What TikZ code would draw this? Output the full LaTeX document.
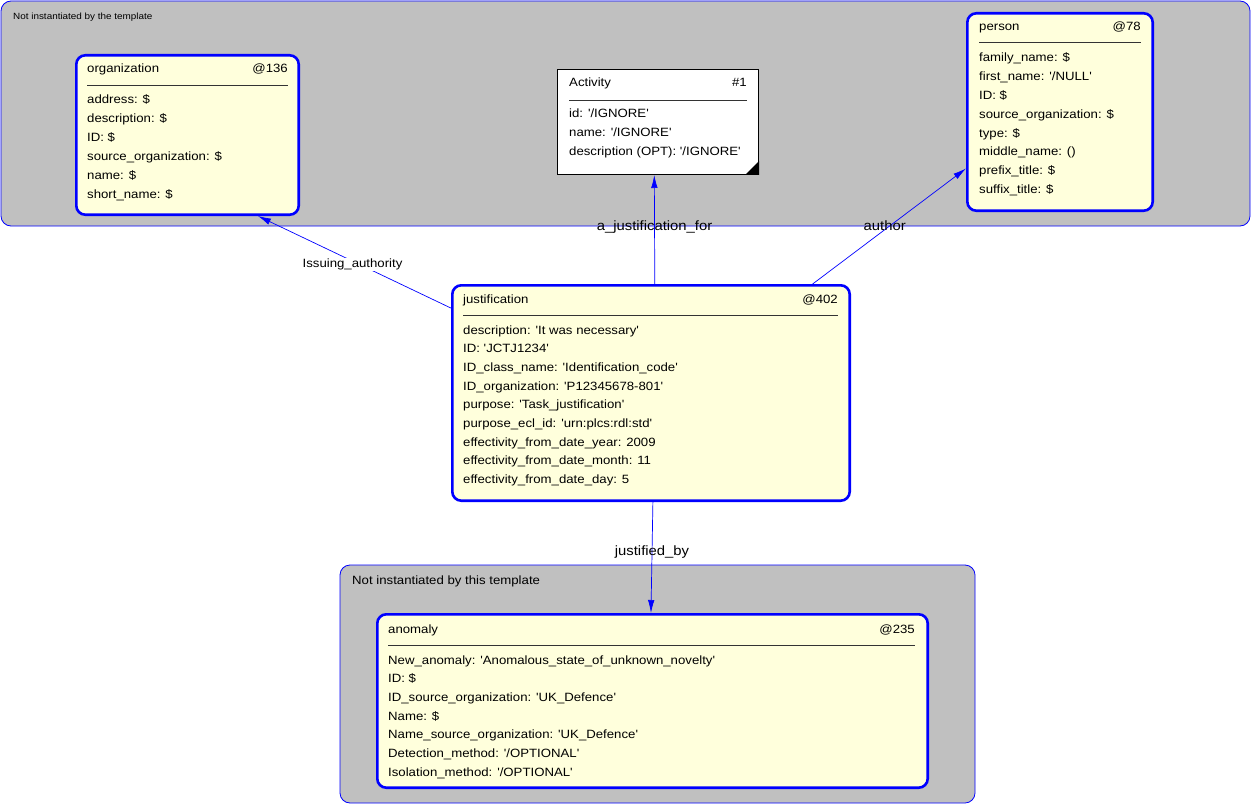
\documentclass[tikz,border=0pt]{standalone}
\usepackage{fontspec}
\setmainfont{Liberation Sans}[Ligatures=TeXOff,FakeStretch=1.1]
\usepackage{xcolor}
\usepackage{tikz}
\usetikzlibrary{arrows.meta}

\definecolor{grpgray}{HTML}{C0C0C0}
\definecolor{entfill}{HTML}{FFFFDC}

\begin{document}
\begin{tikzpicture}[x=1pt,y=-1pt,
	grp/.style={draw=blue,fill=grpgray,rounded corners=10pt,line width=0.8pt},
	ent/.style={draw=blue,fill=entfill,line width=2.6pt,rounded corners=9pt,anchor=north west,inner sep=0pt},
	tmpl/.style={draw=black,fill=white,line width=0.8pt,anchor=north west,inner sep=0pt},
	row/.style={anchor=base west,inner sep=0pt,font=\fontsize{12}{14}\selectfont},
	num/.style={anchor=base east,inner sep=0pt,font=\fontsize{12}{14}\selectfont},
	sep/.style={draw=black!80,line width=0.8pt},
	link/.style={draw=blue,line width=0.7pt,-{Latex[length=13pt,width=6.5pt]}},
	lbl/.style={inner sep=0pt,font=\fontsize{13.5}{15}\selectfont},
	lblw/.style={fill=white,inner sep=1pt,font=\fontsize{12}{14}\selectfont}]
	\useasboundingbox (0,0) rectangle (1252,805);
	%
	\draw[grp] (1,1) rectangle (1250,226);
	\draw[grp] (340,565) rectangle (975,803);
	\node[anchor=base west,inner sep=0pt,font=\fontsize{9}{10}\selectfont] (grp-top) at (13,20) {Not instantiated by the template};
	\node[row] (grp-bot) at (352,584) {Not instantiated by this template};
	%
	\node[ent,minimum width=222.4pt,minimum height=159.4pt] (org) at (75,54) {};
	\node[tmpl,minimum width=201.2pt,minimum height=105.2pt] (act) at (557,69) {};
	\node[ent,minimum width=185.4pt,minimum height=197.4pt] (per) at (966,12) {};
	\node[ent,minimum width=397.4pt,minimum height=215.4pt] (jst) at (451,284) {};
	\node[ent,minimum width=550.4pt,minimum height=173.4pt] (ano) at (376,613) {};
	\fill (act.south east) -- ++(-14,0) -- ++(14,-14) -- cycle;
	%
	\node[row] (org-t) at (87,73) {organization};
	\node[num] (org-n) at (288,73) {@136};
	\draw[sep] (87,85) -- (288,85);
	\foreach \t [count=\i from 0] in {{address: \$},{description: \$},{ID: \$},{source\_organization: \$},{name: \$},{short\_name: \$}}
		\node[row] (org-\i) at (87,104+\i*18.8) {\t};
	%
	\node[row] (act-t) at (569,87) {Activity};
	\node[num] (act-n) at (747,87) {\#1};
	\draw[sep] (569,100) -- (747,100);
	\foreach \t [count=\i from 0] in {{id: '/IGNORE'},{name: '/IGNORE'},{description (OPT): '/IGNORE'}}
		\node[row] (act-\i) at (569,118+\i*18.8) {\t};
	%
	\node[row] (per-t) at (979,31) {person};
	\node[num] (per-n) at (1141,31) {@78};
	\draw[sep] (979,42) -- (1141,42);
	\foreach \t [count=\i from 0] in {{family\_name: \$},{first\_name: '/NULL'},{ID: \$},{source\_organization: \$},{type: \$},{middle\_name: ()},{prefix\_title: \$},{suffix\_title: \$}}
		\node[row] (per-\i) at (979,62+\i*18.8) {\t};
	%
	\node[row] (jst-t) at (463,303) {justification};
	\node[num] (jst-n) at (838,303) {@402};
	\draw[sep] (463,315) -- (838,315);
	\foreach \t [count=\i from 0] in {{description: 'It was necessary'},{ID: 'JCTJ1234'},{ID\_class\_name: 'Identification\_code'},{ID\_organization: 'P12345678-801'},{purpose: 'Task\_justification'},{purpose\_ecl\_id: 'urn:plcs:rdl:std'},{effectivity\_from\_date\_year: 2009},{effectivity\_from\_date\_month: 11},{effectivity\_from\_date\_day: 5}}
		\node[row] (jst-\i) at (463,334+\i*18.7) {\t};
	%
	\node[row] (ano-t) at (388,633) {anomaly};
	\node[num] (ano-n) at (915,633) {@235};
	\draw[sep] (388,645) -- (915,645);
	\foreach \t [count=\i from 0] in {{New\_anomaly: 'Anomalous\_state\_of\_unknown\_novelty'},{ID: \$},{ID\_source\_organization: 'UK\_Defence'},{Name: \$},{Name\_source\_organization: 'UK\_Defence'},{Detection\_method: '/OPTIONAL'},{Isolation\_method: '/OPTIONAL'}}
		\node[row] (ano-\i) at (388,664+\i*18.7) {\t};
	%
	\draw[link] (jst.157.5) -- node[lblw,pos=0.51,yshift=-3pt] (lbl-iss) {Issuing\_authority} (org.-49);
	\draw[link] (jst.88.4) -- node[lbl,pos=0.52] (lbl-for) {a\_justification\_for} (act.-94.3);
	\draw[link] (jst.34.3) -- node[lbl,pos=0.47,yshift=4pt] (lbl-aut) {author} (per.211.7);
	\draw[link] (jst.-89.5) -- node[lbl,pos=0.45] (lbl-by) {justified\_by} (ano.91);
\end{tikzpicture}
\end{document}
